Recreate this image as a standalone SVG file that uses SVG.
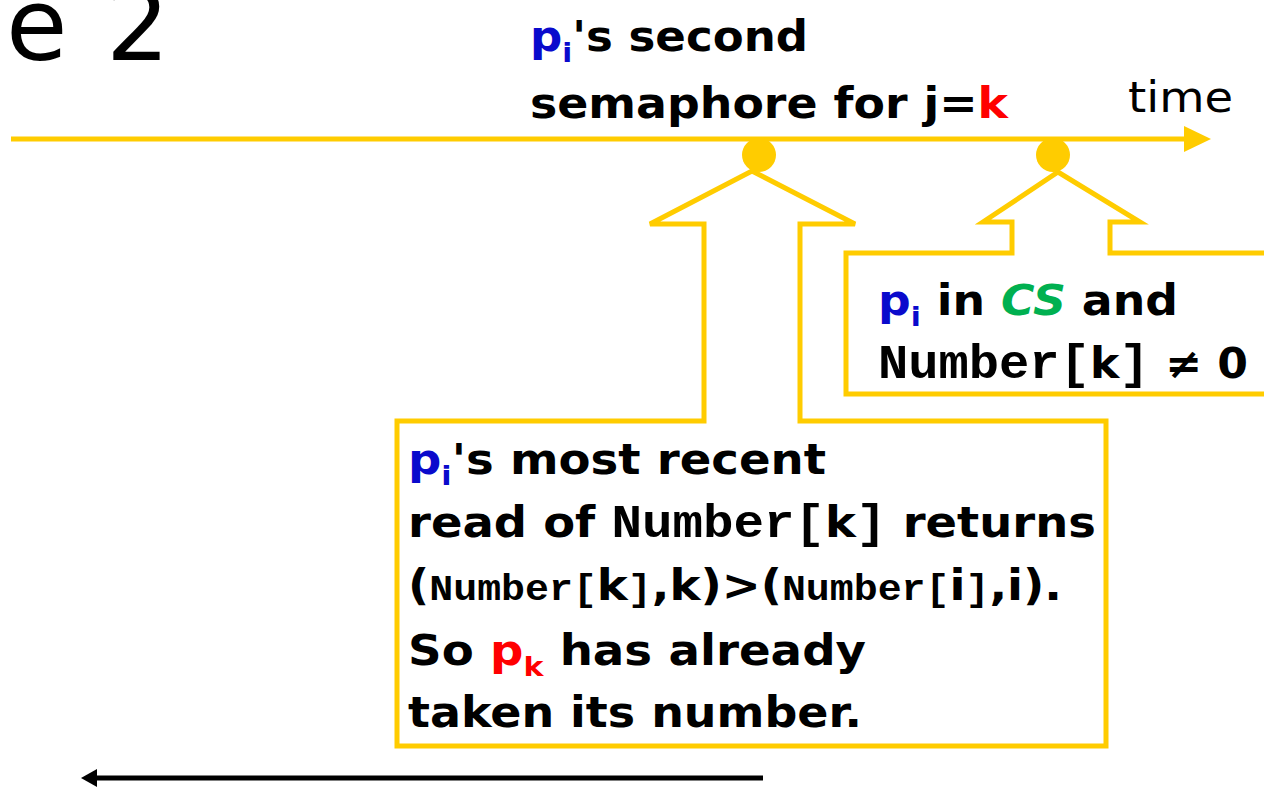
<svg xmlns="http://www.w3.org/2000/svg" width="1264" height="787" viewBox="0 0 1264 787">
<style>
.c{font-family:"DejaVu Sans","Noto Sans",sans-serif;font-weight:bold;font-size:42px;fill:#000}
.m{font-family:"Liberation Mono","Courier New",monospace;font-weight:bold}
.b{fill:#0A0ACC}
.r{fill:#FF0000}
.g{fill:#00B050}
.y{fill:none;stroke:#FFCC00;stroke-width:5}
.yf{fill:#FFFFFF;stroke:#FFCC00;stroke-width:5;stroke-linejoin:miter}
.sub{font-size:27px}
</style>
<rect width="1264" height="787" fill="#FFFFFF"/>
<text y="60" font-family="DejaVu Sans, sans-serif" font-size="100" fill="#000"><tspan x="6">e</tspan><tspan x="106">2</tspan></text>
<g id="connectors">
<line class="y" x1="11" y1="139" x2="1188" y2="139"/>
<polygon points="1184,126 1211,139 1184,152" fill="#FFCC00"/>
<line x1="763" y1="778" x2="94" y2="778" stroke="#000" stroke-width="5"/>
<polygon points="81,778 97,769 97,787" fill="#000"/>
</g>
<g id="axis-labels">
<text class="c" x="530" y="51" textLength="278" lengthAdjust="spacingAndGlyphs"><tspan class="b">p</tspan><tspan class="b sub" dy="11">i</tspan><tspan dy="-11">'s second</tspan></text>
<text class="c" x="530" y="118" textLength="478" lengthAdjust="spacingAndGlyphs">semaphore for j=<tspan class="r">k</tspan></text>
<text x="1128" y="112" font-family="DejaVu Sans, sans-serif" font-size="42" fill="#000" textLength="105" lengthAdjust="spacingAndGlyphs">time</text>
</g>
<g id="callout1">
<path class="yf" d="M752,171 L650,224 L704,224 L704,421 L397,421 L397,746 L1106,746 L1106,421 L800,421 L800,224 L855,224 Z"/>
<text class="c" x="408" y="474" textLength="418" lengthAdjust="spacingAndGlyphs"><tspan class="b">p</tspan><tspan class="b sub" dy="11">i</tspan><tspan dy="-11">'s most recent</tspan></text>
<text class="c" x="408" y="537" textLength="688" lengthAdjust="spacingAndGlyphs">read of <tspan class="m" font-size="46">Number[</tspan>k<tspan class="m" font-size="46">]</tspan> returns</text>
<text class="c" x="408" y="600" font-size="32" textLength="654" lengthAdjust="spacingAndGlyphs">(<tspan class="m" font-size="36">Number[</tspan>k<tspan class="m" font-size="36">]</tspan>,k)&gt;(<tspan class="m" font-size="36">Number[</tspan>i<tspan class="m" font-size="36">]</tspan>,i).</text>
<text class="c" x="408" y="665" textLength="458" lengthAdjust="spacingAndGlyphs">So <tspan class="r">p</tspan><tspan class="r sub" dy="11">k</tspan><tspan dy="-11"> has already</tspan></text>
<text class="c" x="408" y="727" textLength="454" lengthAdjust="spacingAndGlyphs">taken its number.</text>
</g>
<g id="callout2">
<path class="yf" d="M1270,253 L1110,253 L1110,222 L1140,222 L1058,172 L983,222 L1012,222 L1012,253 L846,253 L846,394 L1270,394"/>
<text class="c" x="878" y="315" textLength="300" lengthAdjust="spacingAndGlyphs"><tspan class="b">p</tspan><tspan class="b sub" dy="11">i</tspan><tspan dy="-11"> in </tspan><tspan class="g" font-style="italic">CS</tspan> and</text>
<text class="c" x="878" y="378" textLength="370" lengthAdjust="spacingAndGlyphs"><tspan class="m" font-size="48">Number[</tspan>k<tspan class="m" font-size="48">]</tspan> ≠ 0</text>
</g>
<g id="events">
<circle cx="759" cy="155" r="17" fill="#FFCC00"/>
<circle cx="1053" cy="155" r="17" fill="#FFCC00"/>
</g>
</svg>
